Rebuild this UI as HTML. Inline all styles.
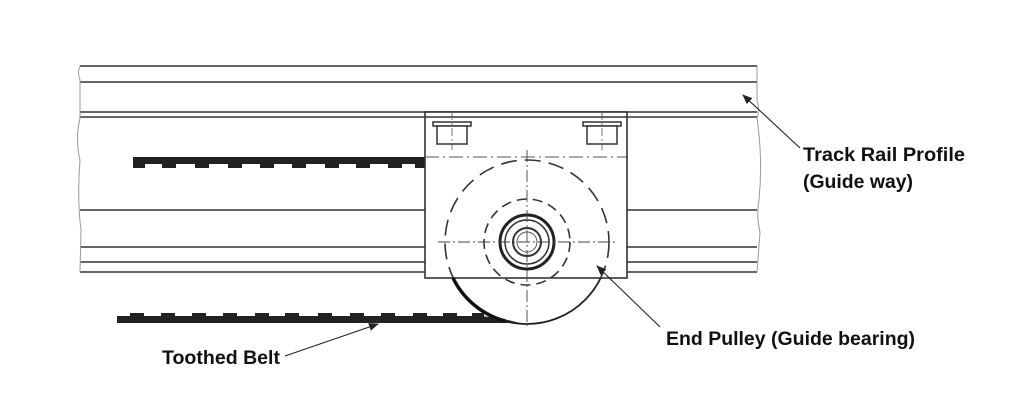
<!DOCTYPE html>
<html><head><meta charset="utf-8"><style>html,body{margin:0;padding:0;background:#fff}svg{display:block}</style></head>
<body>
<svg width="1024" height="413" viewBox="0 0 1024 413" xmlns="http://www.w3.org/2000/svg" font-family="Liberation Sans, sans-serif">
<defs><marker id="a" markerWidth="10" markerHeight="8" refX="9" refY="4" orient="auto" markerUnits="userSpaceOnUse"><path d="M0,0 L10,4 L0,8 z" fill="#222"/></marker>
<clipPath id="below"><rect x="0" y="278" width="1024" height="200"/></clipPath>
<clipPath id="inbox"><rect x="425" y="112" width="202" height="166"/></clipPath></defs>
<g stroke="#333" stroke-width="1.6" fill="none">
<line x1="80" y1="66" x2="757" y2="66"/>
<line x1="80" y1="82" x2="757" y2="82"/>
<line x1="80" y1="112" x2="757" y2="112"/>
<line x1="80" y1="117" x2="757" y2="117"/>
<line x1="80" y1="210" x2="425" y2="210"/>
<line x1="627" y1="210" x2="757" y2="210"/>
<line x1="80" y1="247" x2="425" y2="247"/>
<line x1="627" y1="247" x2="757" y2="247"/>
<line x1="80" y1="262" x2="425" y2="262"/>
<line x1="627" y1="262" x2="757" y2="262"/>
<line x1="80" y1="272" x2="425" y2="272"/>
<line x1="627" y1="272" x2="757" y2="272"/>
</g>
<g stroke="#999" stroke-width="1" fill="none">
<path d="M80,66 Q77,72 80,80 L80,118 Q75,140 80,160 Q77,200 81,230 L80,272"/>
<path d="M757,66 L757,100 Q760,110 757,118 Q763,160 759,200 Q756,215 760,232 L757,272"/>
</g>
<rect x="133" y="157" width="292" height="7" fill="#222"/>
<g fill="#222">
<rect x="133" y="163" width="12" height="5"/><rect x="162" y="163" width="14" height="5"/><rect x="195" y="163" width="14" height="5"/><rect x="228" y="163" width="14" height="5"/><rect x="260" y="163" width="14" height="5"/><rect x="292" y="163" width="14" height="5"/><rect x="325" y="163" width="14" height="5"/><rect x="356" y="163" width="14" height="5"/><rect x="388" y="163" width="14" height="5"/><rect x="415" y="163" width="10" height="5"/>
</g>
<rect x="425" y="112" width="202" height="166" fill="#fff" stroke="#333" stroke-width="1.6"/>
<line x1="425" y1="117" x2="627" y2="117" stroke="#333" stroke-width="1.4"/>
<line x1="425" y1="157" x2="627" y2="157" stroke="#555" stroke-width="1" stroke-dasharray="14,4,2,4"/>
<g stroke="#333" stroke-width="1.5" fill="#fff">
<rect x="433" y="122" width="38" height="4"/><rect x="437" y="126" width="30" height="18"/>
<rect x="583" y="122" width="38" height="4"/><rect x="587" y="126" width="30" height="18"/>
</g>
<g stroke="#555" stroke-width="0.8" stroke-dasharray="8,3,2,3">
<line x1="452" y1="112" x2="452" y2="150"/><line x1="602" y1="112" x2="602" y2="150"/>
</g>
<g clip-path="url(#inbox)">
<circle cx="527" cy="242" r="82" fill="none" stroke="#333" stroke-width="1.6" stroke-dasharray="16,8"/>
</g>
<circle cx="527" cy="242" r="82" fill="none" stroke="#222" stroke-width="1.8" clip-path="url(#below)"/>
<path d="M117,316 L480,316 L500,318 L520,323 L117,323 z" fill="#222"/>
<path d="M453,278 A82,82 0 0 0 505,321" fill="none" stroke="#111" stroke-width="3.5"/>
<g fill="#222">
<rect x="130" y="313" width="14" height="4"/><rect x="161" y="313" width="14" height="4"/><rect x="192" y="313" width="14" height="4"/><rect x="223" y="313" width="14" height="4"/><rect x="255" y="313" width="14" height="4"/><rect x="285" y="313" width="14" height="4"/><rect x="318" y="313" width="14" height="4"/><rect x="350" y="313" width="14" height="4"/><rect x="381" y="313" width="14" height="4"/><rect x="413" y="313" width="14" height="4"/><rect x="443" y="313" width="14" height="4"/><rect x="472" y="313" width="12" height="4"/>
</g>
<circle cx="527" cy="242" r="43" fill="none" stroke="#333" stroke-width="1.6" stroke-dasharray="10,6"/>
<circle cx="527" cy="242" r="27" fill="#fff" stroke="#222" stroke-width="3"/>
<circle cx="527" cy="242" r="22" fill="none" stroke="#333" stroke-width="1.5"/>
<circle cx="527" cy="242" r="14" fill="none" stroke="#333" stroke-width="2"/>
<circle cx="527" cy="242" r="10" fill="none" stroke="#555" stroke-width="1"/>
<g stroke="#444" stroke-width="0.9" stroke-dasharray="12,3,2,3">
<line x1="527" y1="150" x2="527" y2="326"/><line x1="438" y1="242" x2="616" y2="242"/>
</g>
<g stroke="#222" stroke-width="1.1">
<line x1="800" y1="148" x2="743" y2="95" marker-end="url(#a)"/>
<line x1="660" y1="327" x2="597" y2="266" marker-end="url(#a)"/>
<line x1="285" y1="356" x2="378" y2="324" marker-end="url(#a)"/>
</g>
<g font-weight="bold" font-size="19" fill="#111">
<text x="803" y="161" textLength="162" lengthAdjust="spacingAndGlyphs">Track Rail Profile</text>
<text x="803" y="188" textLength="110" lengthAdjust="spacingAndGlyphs">(Guide way)</text>
<text x="666" y="345" textLength="249" lengthAdjust="spacingAndGlyphs">End Pulley (Guide bearing)</text>
<text x="162" y="364" textLength="118" lengthAdjust="spacingAndGlyphs">Toothed Belt</text>
</g>
</svg>
</body></html>
